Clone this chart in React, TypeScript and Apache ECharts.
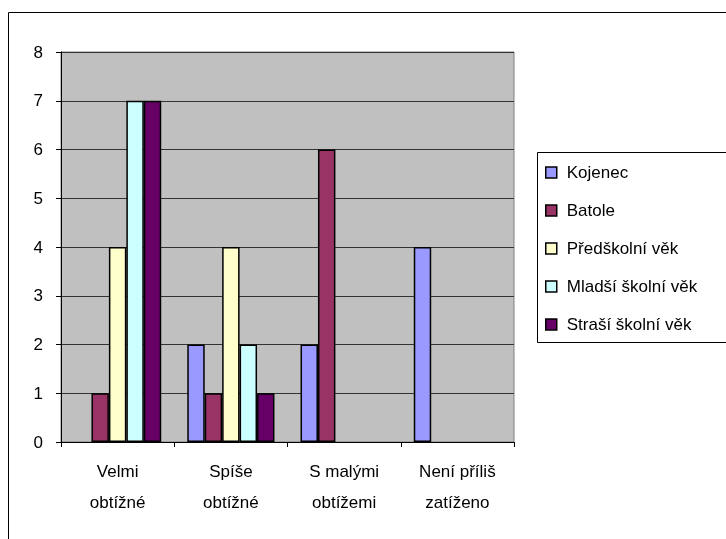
import React, { useEffect, useRef } from "react";
import * as echarts from "echarts";

const categories = [
  "Velmi\nobtížné",
  "Spíše\nobtížné",
  "S malými\nobtížemi",
  "Není příliš\nzatíženo",
];
const seriesNames = [
  "Kojenec",
  "Batole",
  "Předškolní věk",
  "Mladší školní věk",
  "Straší školní věk",
];
const kojenec = [0, 2, 2, 4];
const batole = [1, 1, 6, 0];
const predskolni = [4, 4, 0, 0];
const mladsi = [7, 2, 0, 0];
const strasi = [7, 1, 0, 0];
const colors = ["#9999FF", "#993366", "#FFFFCC", "#CCFFFF", "#660066"];
const yTicks = [0, 1, 2, 3, 4, 5, 6, 7, 8];

const FONT = "'Liberation Sans', Arial, sans-serif";

export default function App() {
  const ref = useRef<HTMLDivElement>(null);
  useEffect(() => {
    if (!ref.current) return;
    const chart = echarts.init(ref.current, undefined, { renderer: "svg" });
    const all = [kojenec, batole, predskolni, mladsi, strasi];
    chart.setOption({
      animation: false,
      textStyle: { fontFamily: FONT },
      grid: {
        left: 61,
        top: 52,
        width: 453,
        height: 390,
        show: true,
        backgroundColor: "#C0C0C0",
        borderColor: "#808080",
        borderWidth: 1,
      },
      legend: {
        orient: "vertical",
        left: 540,
        top: 159,
        itemWidth: 11,
        itemHeight: 11,
        itemGap: 21,
        icon: "rect",
        data: seriesNames,
        textStyle: {
          fontFamily: FONT,
          fontSize: 17,
          lineHeight: 17,
          color: "#000",
          padding: [0, 0, 0, 5],
        },
        itemStyle: { borderColor: "#000", borderWidth: 1.5 },
      },
      graphic: [
        {
          type: "rect",
          shape: { x: 8.5, y: 12.5, width: 740, height: 560 },
          style: { fill: "none", stroke: "#000", lineWidth: 1 },
          z: -1,
        },
        {
          type: "rect",
          shape: { x: 537.5, y: 152.5, width: 220, height: 190 },
          style: { fill: "#fff", stroke: "#000", lineWidth: 1 },
          z: -1,
        },
      ],
      xAxis: {
        type: "category",
        data: categories,
        axisLine: { show: true, lineStyle: { color: "#000", width: 1 } },
        axisTick: { show: true, length: 5, lineStyle: { color: "#000" } },
        axisLabel: {
          fontFamily: FONT,
          fontSize: 17,
          lineHeight: 31,
          color: "#000",
          margin: 14,
          interval: 0,
        },
        splitLine: { show: false },
      },
      yAxis: {
        type: "value",
        min: yTicks[0],
        max: yTicks[yTicks.length - 1],
        interval: 1,
        axisLine: { show: true, lineStyle: { color: "#000", width: 1 } },
        axisTick: { show: true, length: 5, lineStyle: { color: "#000" } },
        axisLabel: {
          fontFamily: FONT,
          fontSize: 17,
          color: "#000",
          margin: 18,
        },
        splitLine: { show: true, lineStyle: { color: "#333", width: 1 } },
      },
      series: seriesNames.map((name, i) => ({
        name,
        type: "bar",
        data: all[i].map((v) => (v === 0 ? "-" : v)),
        barGap: "0%",
        barCategoryGap: "23%",
        itemStyle: { color: colors[i], borderColor: "#000", borderWidth: 1.5 },
      })),
    });
    return () => chart.dispose();
  }, []);
  return (
    <div
      ref={ref}
      style={{ position: "fixed", left: 0, top: 0, width: 726, height: 539 }}
    />
  );
}
